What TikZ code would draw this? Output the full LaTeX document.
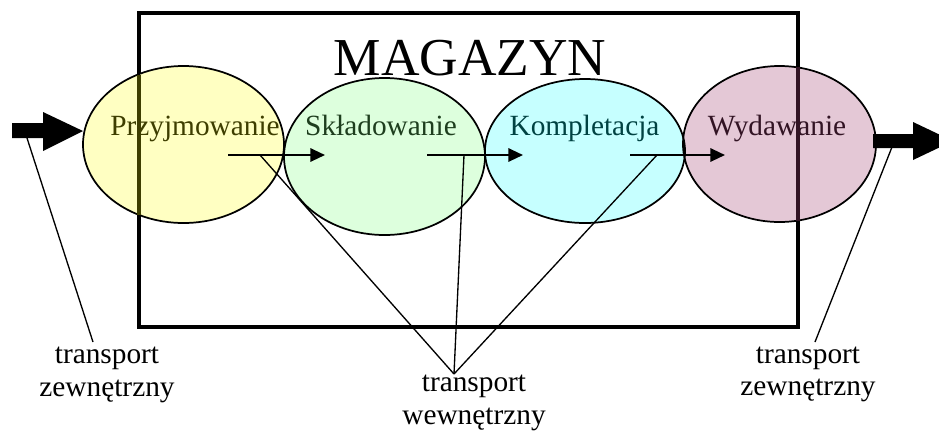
\documentclass[tikz,border=0pt]{standalone}
\usepackage{fontspec}
\setmainfont{Liberation Serif}
\usetikzlibrary{shapes.geometric,arrows.meta}
\definecolor{yelfill}{RGB}{255,255,194}
\definecolor{grefill}{RGB}{221,255,221}
\definecolor{cyafill}{RGB}{198,255,255}
\definecolor{pinfill}{RGB}{228,200,214}
\definecolor{yelink}{RGB}{62,62,0}
\definecolor{greink}{RGB}{30,62,30}
\definecolor{cyaink}{RGB}{0,66,66}
\definecolor{pinink}{RGB}{50,20,36}
\begin{document}
\begin{tikzpicture}[x=0.75pt,y=-0.75pt,
  lbl/.style={inner sep=0pt, anchor=base, font=\fontsize{22}{26}\selectfont},
  ellfill/.style={ellipse, inner sep=0pt, draw=none},
  ellline/.style={line width=1.3pt},
  frame/.style={line width=3pt},
  flow/.style={line width=1.6pt, -{Triangle[length=11pt,width=10pt]}},
  lead/.style={line width=1pt}]
\clip (0,0) rectangle (939,430);
% frame
\draw[frame] (139,13) rectangle (798,327);
\node[inner sep=0pt, anchor=base, font=\fontsize{40}{48}\selectfont] (title) at (470,75) {MAGAZYN};
% ellipse fills
\node[ellfill, fill=yelfill, minimum width=150.75pt, minimum height=117.75pt] (yel) at (183.5,144.5) {};
\node[ellfill, fill=grefill, minimum width=150.75pt, minimum height=117.75pt] (gre) at (384.5,156.5) {};
\node[ellfill, fill=cyafill, minimum width=150pt, minimum height=108pt] (cya) at (585,151) {};
\node[ellfill, fill=pinfill, minimum width=144.75pt, minimum height=117pt] (pin) at (779.5,144) {};
% ellipse borders
\draw[ellline] (yel.center) ellipse [x radius=75.375pt, y radius=58.875pt];
\draw[ellline] (gre.center) ellipse [x radius=75.375pt, y radius=58.875pt];
\draw[ellline] (cya.center) ellipse [x radius=75pt, y radius=54pt];
\draw[ellline] (pin.center) ellipse [x radius=72.375pt, y radius=58.5pt];
% frame seen through the ellipses
\draw[frame, yelink] (139,74.5) -- (139,214.5);
\draw[frame, pinink] (798,67) -- (798,221);
% labels
\node[lbl, text=yelink] (l1) at (195,135) {Przyjmowanie};
\node[lbl, text=greink] (l2) at (381,135) {Składowanie};
\node[lbl, text=cyaink] (l3) at (584.5,135) {Kompletacja};
\node[lbl, text=pinink] (l4) at (777,135) {Wydawanie};
% flow arrows
\coordinate (f1s) at (228,155); \coordinate (f1e) at (325,155);
\coordinate (f2s) at (427,155); \coordinate (f2e) at (523,155);
\coordinate (f3s) at (630,155); \coordinate (f3e) at (725,155);
\draw[flow] (f1s) -- (f1e);
\draw[flow] (f2s) -- (f2e);
\draw[flow] (f3s) -- (f3e);
% big arrows
\fill (12,123) -- (43,123) -- (43,112) -- (83,131) -- (43,151) -- (43,138) -- (12,138) -- cycle;
\fill (873,134) -- (913,134) -- (913,122) -- (953,141) -- (913,160) -- (913,148) -- (873,148) -- cycle;
% bottom labels
\node[lbl] (t1a) at (107,363) {transport};
\node[lbl] (t1b) at (107,396) {zewnętrzny};
\node[lbl] (t2a) at (474,391) {transport};
\node[lbl] (t2b) at (474,424) {wewnętrzny};
\node[lbl] (t3a) at (808,363) {transport};
\node[lbl] (t3b) at (808,395) {zewnętrzny};
% leader lines
\coordinate (z1s) at (27,138); \coordinate (z1e) at (93,342);
\coordinate (z2s) at (892,147); \coordinate (z2e) at (815,342);
\coordinate (w0) at (454,374);
\coordinate (w1) at (260,155); \coordinate (w2) at (464,155); \coordinate (w3) at (657,155);
\draw[lead] (z1s) -- (z1e);
\draw[lead] (z2s) -- (z2e);
\draw[lead] (w1) -- (w0);
\draw[lead] (w2) -- (w0);
\draw[lead] (w3) -- (w0);
\end{tikzpicture}
\end{document}
